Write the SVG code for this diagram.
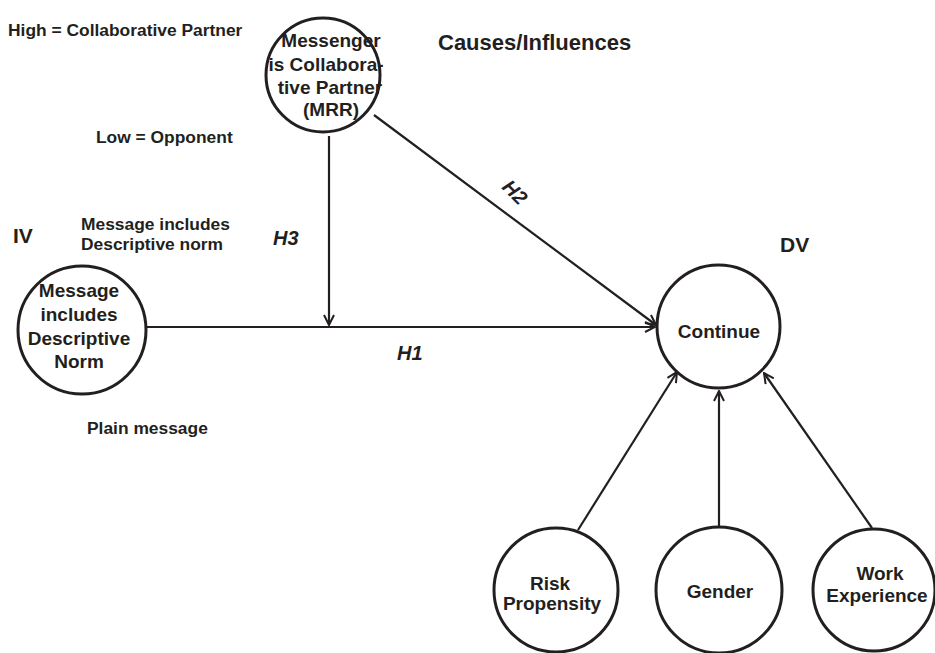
<svg xmlns="http://www.w3.org/2000/svg" width="935" height="653" viewBox="0 0 935 653">
<style>
text{font-family:"Liberation Sans",Arial,sans-serif;font-weight:bold;fill:#231f20}
.n{fill:#fff;stroke:#231f20;stroke-width:3}
.c{stroke:#231f20;stroke-width:2.2;fill:none}
.t{font-size:19px;text-anchor:middle}
.l{font-size:17.4px}
.h{font-size:21px}
.i{font-size:20px;font-style:italic}
</style>
<defs>
<marker id="a" viewBox="0 0 12 12" refX="11" refY="6" markerWidth="12" markerHeight="12" markerUnits="userSpaceOnUse" orient="auto">
<path d="M1,1 L11,6 L1,11" fill="none" stroke="#231f20" stroke-width="2"/>
</marker>
</defs>
<rect width="935" height="653" fill="#fff"/>
<g id="connectors">
<line class="c" x1="147" y1="327" x2="655" y2="327" marker-end="url(#a)"/>
<line class="c" x1="329" y1="136" x2="329" y2="325" marker-end="url(#a)"/>
<line class="c" x1="374" y1="115" x2="656" y2="325" marker-end="url(#a)"/>
<line class="c" x1="578" y1="530" x2="677" y2="372" marker-end="url(#a)"/>
<line class="c" x1="719" y1="527" x2="719" y2="391" marker-end="url(#a)"/>
<line class="c" x1="872" y1="528" x2="764" y2="373" marker-end="url(#a)"/>
</g>
<g id="labels">
<text class="l" x="8" y="36">High = Collaborative Partner</text>
<text class="h" x="438" y="50" style="font-size:22px">Causes/Influences</text>
<text class="l" x="96" y="143">Low = Opponent</text>
<text class="l" x="81" y="230">Message includes</text>
<text class="l" x="81" y="250">Descriptive norm</text>
<text class="h" x="13" y="243">IV</text>
<text class="i" x="273" y="245">H3</text>
<text class="i" text-anchor="middle" transform="translate(515,192) rotate(45)" y="7">H2</text>
<text class="i" x="397" y="360">H1</text>
<text class="h" x="780" y="252">DV</text>
<text class="l" x="87" y="434">Plain message</text>
</g>
<g id="mrr">
<ellipse class="n" cx="323" cy="75" rx="57" ry="57"/>
<text class="t" x="331" y="47">Messenger</text>
<text class="t" x="326" y="71">is Collabora-</text>
<text class="t" x="330" y="94">tive Partner</text>
<text class="t" x="331" y="116">(MRR)</text>
</g>
<g id="iv">
<circle class="n" cx="82" cy="330" r="64"/>
<text class="t" x="79" y="297">Message</text>
<text class="t" x="79" y="321">includes</text>
<text class="t" x="79" y="345">Descriptive</text>
<text class="t" x="79" y="368">Norm</text>
</g>
<g id="continue">
<circle class="n" cx="718.5" cy="326.5" r="61.5"/>
<text class="t" x="719" y="338">Continue</text>
</g>
<g id="risk">
<circle class="n" cx="556" cy="590" r="62"/>
<text class="t" x="550" y="590">Risk</text>
<text class="t" x="552" y="610">Propensity</text>
</g>
<g id="gender">
<circle class="n" cx="719" cy="590" r="63"/>
<text class="t" x="720" y="598">Gender</text>
</g>
<g id="work">
<circle class="n" cx="874" cy="590" r="61"/>
<text class="t" x="880" y="580">Work</text>
<text class="t" x="877" y="602">Experience</text>
</g>
</svg>
